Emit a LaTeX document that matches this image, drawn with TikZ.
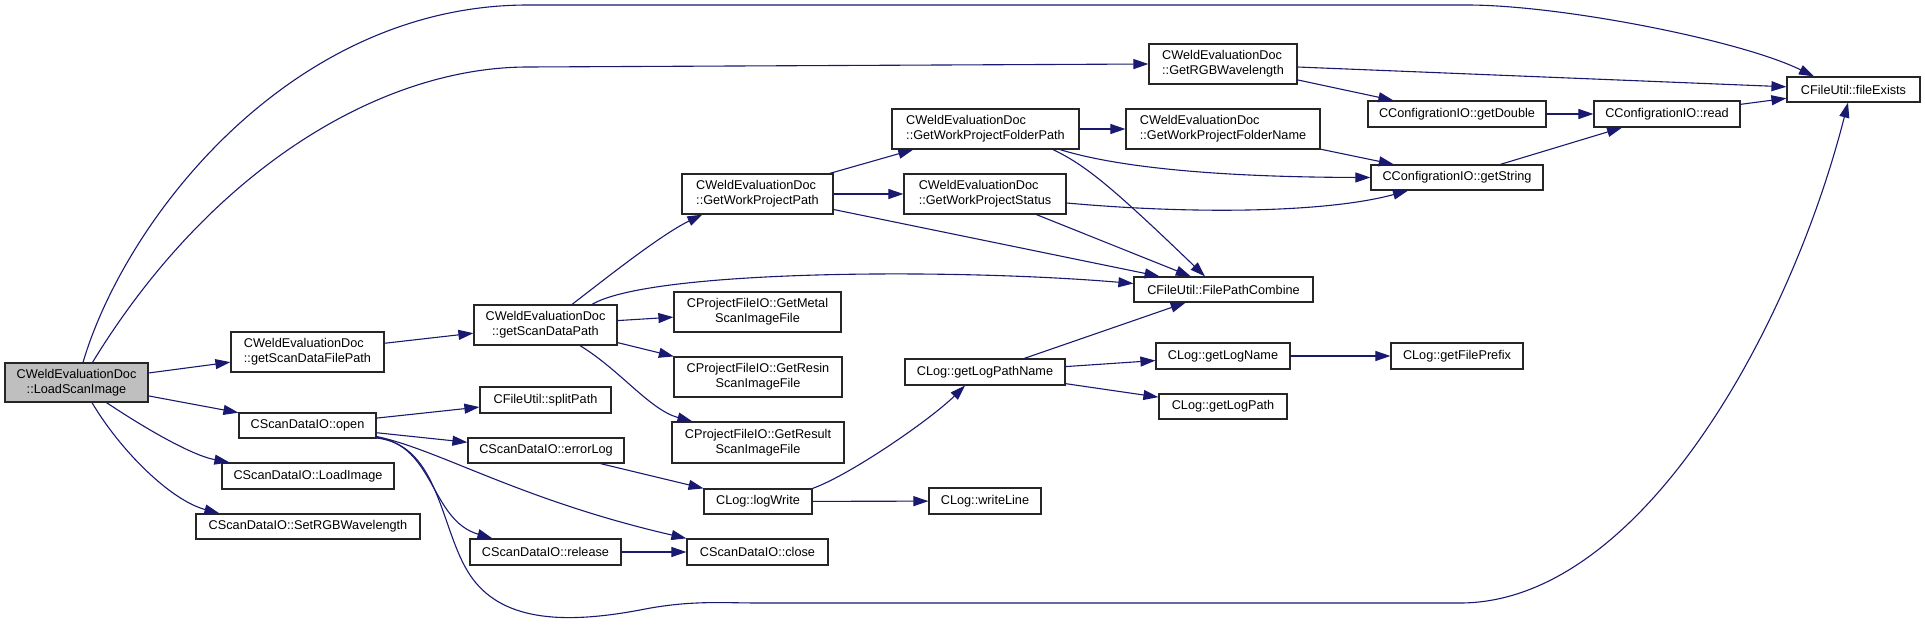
\documentclass[tikz,border=0pt]{standalone}
\usepackage{fontspec}
\setmainfont{Liberation Sans}
\usepackage{tikz}
\usetikzlibrary{shapes,arrows.meta,positioning,calc}
\usepackage{xcolor}
\definecolor{navyline}{RGB}{25,25,112}
\definecolor{rootgray}{RGB}{191,191,191}
\tikzset{
    fnnode/.style={
        rectangle,
        draw=black!85,
        line width=1.2pt,
        inner sep=0pt,
        font=\fontsize{12.7}{15}\selectfont,
        align=center
    },
    leftnode/.style={
        fnnode,
        align=left
    },
    rootnode/.style={
        fnnode,
        fill=rootgray
    },
    call/.style={
        -{Triangle[length=15pt,width=10pt]},
        draw=navyline,
        line width=1.1pt
    }
}

\begin{document}
\begin{tikzpicture}[x=1pt,y=-1pt]
    \useasboundingbox (0,0) rectangle (1925,626);

    % Root function
    \node[rootnode, minimum width=143pt, minimum height=39pt] (lsi) at (76.5,382.5) {CWeldEvaluationDoc\\::LoadScanImage};

    % First level calls
    \node[leftnode, minimum width=153pt, minimum height=40pt] (gsdfp) at (307.5,352) {CWeldEvaluationDoc\\::getScanDataFilePath};
    \node[fnnode, minimum width=137pt, minimum height=25pt] (open) at (307.5,425.5) {CScanDataIO::open};
    \node[fnnode, minimum width=172pt, minimum height=26pt] (loadimg) at (308,476) {CScanDataIO::LoadImage};
    \node[fnnode, minimum width=224pt, minimum height=25pt] (setrgb) at (308,526.5) {CScanDataIO::SetRGBWavelength};

    % Second level calls
    \node[fnnode, minimum width=143pt, minimum height=40pt] (gsdp) at (545.5,325) {CWeldEvaluationDoc\\::getScanDataPath};
    \node[fnnode, minimum width=131pt, minimum height=26pt] (splitpath) at (545.5,400) {CFileUtil::splitPath};
    \node[fnnode, minimum width=156pt, minimum height=25pt] (errorlog) at (546,450.5) {CScanDataIO::errorLog};
    \node[fnnode, minimum width=151pt, minimum height=26pt] (release) at (545.5,552) {CScanDataIO::release};

    % Third level calls
    \node[leftnode, minimum width=151pt, minimum height=40pt] (wpp) at (757.5,194) {CWeldEvaluationDoc\\::GetWorkProjectPath};
    \node[fnnode, minimum width=167pt, minimum height=40pt] (metal) at (757.5,312) {CProjectFileIO::GetMetal\\ScanImageFile};
    \node[fnnode, minimum width=168pt, minimum height=40pt] (resin) at (758,377) {CProjectFileIO::GetResin\\ScanImageFile};
    \node[fnnode, minimum width=172pt, minimum height=41pt] (result) at (758,442.5) {CProjectFileIO::GetResult\\ScanImageFile};
    \node[fnnode, minimum width=108pt, minimum height=25pt] (logwrite) at (758,501.5) {CLog::logWrite};
    \node[fnnode, minimum width=141pt, minimum height=26pt] (close) at (757.5,552) {CScanDataIO::close};

    % Fourth level calls
    \node[leftnode, minimum width=187pt, minimum height=40pt] (folderpath) at (985.5,129) {CWeldEvaluationDoc\\::GetWorkProjectFolderPath};
    \node[leftnode, minimum width=162pt, minimum height=40pt] (status) at (985,194) {CWeldEvaluationDoc\\::GetWorkProjectStatus};
    \node[fnnode, minimum width=160pt, minimum height=26pt] (glpn) at (985,372) {CLog::getLogPathName};
    \node[fnnode, minimum width=112pt, minimum height=26pt] (writeline) at (985,501) {CLog::writeLine};

    % Fifth level calls
    \node[leftnode, minimum width=148pt, minimum height=40pt] (rgbwl) at (1223,64) {CWeldEvaluationDoc\\::GetRGBWavelength};
    \node[leftnode, minimum width=194pt, minimum height=40pt] (foldername) at (1223,129) {CWeldEvaluationDoc\\::GetWorkProjectFolderName};
    \node[fnnode, minimum width=179pt, minimum height=25pt] (fpc) at (1223.5,289.5) {CFileUtil::FilePathCombine};
    \node[fnnode, minimum width=134pt, minimum height=26pt] (getlogname) at (1223,356) {CLog::getLogName};
    \node[fnnode, minimum width=128pt, minimum height=25pt] (getlogpath) at (1223,406.5) {CLog::getLogPath};

    % Configuration and leaves
    \node[fnnode, minimum width=178pt, minimum height=26pt] (getdouble) at (1457,114) {CConfigrationIO::getDouble};
    \node[fnnode, minimum width=172pt, minimum height=25pt] (getstring) at (1457,177.5) {CConfigrationIO::getString};
    \node[fnnode, minimum width=132pt, minimum height=26pt] (fileprefix) at (1457,356) {CLog::getFilePrefix};
    \node[fnnode, minimum width=146pt, minimum height=26pt] (read) at (1667,114) {CConfigrationIO::read};
    \node[fnnode, minimum width=133pt, minimum height=25pt] (fileexists) at (1853.5,89.5) {CFileUtil::fileExists};

    % Calls from LoadScanImage
    \draw[call] (lsi) -- (gsdfp);
    \draw[call] (lsi) -- (open);
    \draw[call] ([xshift=30pt]lsi.south) .. controls (140,425) and (190,455) .. ([xshift=8pt]loadimg.north west);
    \draw[call] ([xshift=15.5pt]lsi.south) .. controls (120,450) and (170,500) .. ([xshift=24pt]setrgb.north west);
    \draw[call] ([xshift=6.5pt]lsi.north) .. controls (125,220) and (290,5) .. (528,5) -- (1467,5)
        .. controls (1560,5) and (1740,40) .. ([xshift=-39.5pt]fileexists.north);
    \draw[call] ([xshift=16pt]lsi.north) .. controls (210,170) and (380,67) .. (528,67) -- (rgbwl.west);

    % Calls from getScanDataFilePath / getScanDataPath
    \draw[call] (gsdfp) -- (gsdp);
    \draw[call] ([xshift=26.5pt]gsdp.north) .. controls (600,283) and (660,235) .. ([xshift=21pt]wpp.south west);
    \draw[call] ([xshift=46.5pt]gsdp.north) .. controls (650,270) and (950,268) .. ([yshift=6pt]fpc.west);
    \draw[call] (gsdp) -- (metal);
    \draw[call] (gsdp) -- (resin);
    \draw[call] ([xshift=34.5pt]gsdp.south) .. controls (620,370) and (650,410) .. ([xshift=21pt]result.north west);

    % Calls from open
    \draw[call] (open) -- (splitpath);
    \draw[call] (open) -- (errorlog);
    \draw[call] ([yshift=-11pt]open.east) .. controls (440,450) and (520,500) .. (close.north west);
    \draw[call] ([yshift=-12pt]open.east) .. controls (435,445) and (430,520) .. ([xshift=23pt]release.north west);
    \draw[call] ([yshift=-12.5pt]open.east) .. controls (440,445) and (440,530) .. (470,575)
        .. controls (500,620) and (560,625) .. (640,610) .. controls (690,600) and (720,603) .. (760,603)
        -- (1460,603) .. controls (1640,603) and (1790,330) .. ([xshift=-5.5pt]fileexists.south);

    % Logging
    \draw[call] (errorlog) -- (logwrite);
    \draw[call] (logwrite.north east) .. controls (850,475) and (930,420) .. ([xshift=-20pt]glpn.south);
    \draw[call] (logwrite) -- (writeline);
    \draw[call] (release) -- (close);
    \draw[call] (glpn) -- (fpc);
    \draw[call] (glpn) -- (getlogname);
    \draw[call] (glpn) -- (getlogpath);
    \draw[call] (getlogname) -- (fileprefix);

    % Work project calls
    \draw[call] (wpp) -- (folderpath);
    \draw[call] (wpp) -- (status);
    \draw[call] (wpp) -- (fpc);
    \draw[call] (folderpath) -- (foldername);
    \draw[call] ([xshift=74.5pt]folderpath.south) .. controls (1110,165) and (1200,177) .. (getstring.west);
    \draw[call] ([xshift=67.5pt]folderpath.south) .. controls (1085,165) and (1110,185) .. ([xshift=-18.5pt]fpc.north);
    \draw[call] ([yshift=-9pt]status.east) .. controls (1200,215) and (1330,212) .. ([xshift=-49pt]getstring.south);
    \draw[call] (status) -- (fpc);
    \draw[call] (foldername) -- (getstring);

    % Configuration calls
    \draw[call] (rgbwl) -- (fileexists);
    \draw[call] (rgbwl) -- (getdouble);
    \draw[call] (getdouble) -- (read);
    \draw[call] (getstring) -- (read);
    \draw[call] (read) -- (fileexists);
\end{tikzpicture}
\end{document}
